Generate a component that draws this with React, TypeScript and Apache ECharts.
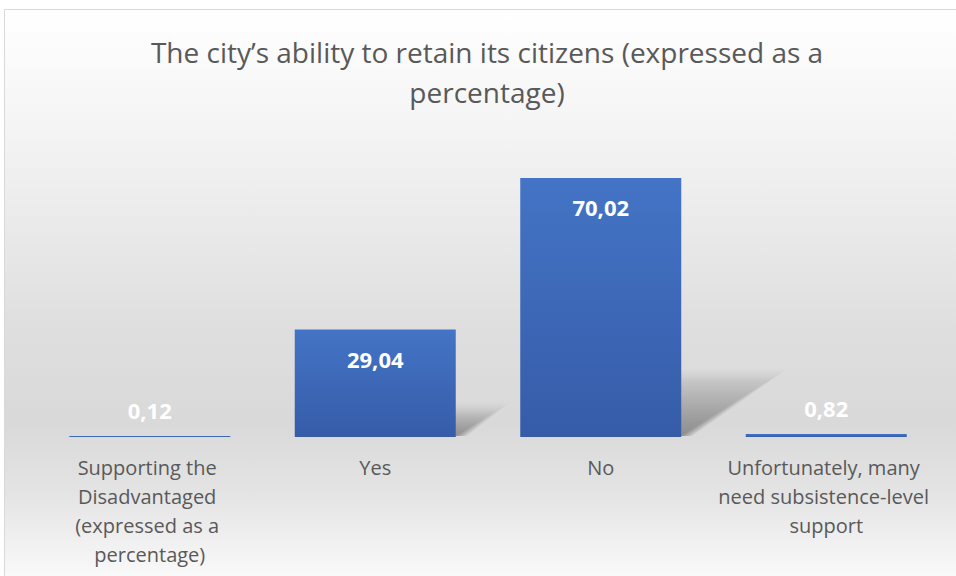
import React, { useEffect, useRef } from "react";
import * as echarts from "echarts";

const titleLines = ["The city\u2019s ability to retain its citizens (expressed as a", "percentage)"];
const categories = [
  "Supporting the Disadvantaged (expressed as a percentage)",
  "Yes",
  "No",
  "Unfortunately, many need subsistence-level support",
];
const values = [0.12, 29.04, 70.02, 0.82];

const FONT = "'Open Sans', 'Noto Sans', sans-serif";

export default function App() {
  const ref = useRef<HTMLDivElement>(null);
  useEffect(() => {
    if (!ref.current) return;
    const chart = echarts.init(ref.current, null, { renderer: "svg" });
    const barGap = 0.286;
    chart.setOption({
      animation: false,
      backgroundColor: "transparent",
      graphic: [
        {
          type: "text",
          x: 487,
          y: 32,
          style: {
            text: titleLines.join("\n"),
            align: "center",
            verticalAlign: "top",
            fontFamily: FONT,
            fontSize: 28,
            fontWeight: "normal",
            fill: "#595959",
            lineHeight: 40,
          },
        },
      ],
      grid: { left: 37, right: 17, top: 141, bottom: 139, containLabel: false },
      xAxis: {
        type: "category",
        data: categories,
        axisLine: { show: false },
        axisTick: { show: false },
        axisLabel: {
          interval: 0,
          margin: 16,
          fontFamily: FONT,
          fontSize: 20,
          lineHeight: 29,
          color: "#595959",
          width: 224,
          overflow: "break",
        },
      },
      yAxis: {
        type: "value",
        min: 0,
        max: 80,
        show: false,
        splitLine: { show: false },
      },
      series: [
        {
          type: "custom",
          z: 1,
          silent: true,
          data: values.map((v, i) => [i, v]),
          renderItem: (params: any, api: any) => {
            const idx = api.value(0);
            const v = api.value(1);
            const top = api.coord([idx, v]);
            const base = api.coord([idx, 0]);
            const w = api.size([1, 0])[0] * (1 - barGap);
            const h = base[1] - top[1];
            if (h < 5) return null;
            const dx = 0.34 * h;
            const dy = 0.22 * h;
            const l = base[0] - w / 2;
            const r = base[0] + w / 2;
            const y0 = base[1];
            const layers = 7;
            const children = [];
            for (let k = 0; k < layers; k++) {
              const e = (layers - 1 - k) * 3;
              children.push({
                type: "polygon",
                shape: {
                  points: [
                    [l, y0 - 1],
                    [r + e * 0.6, y0 - 1],
                    [r + dx + e, y0 - dy - e * 0.6],
                    [l + dx, y0 - dy - e * 0.6],
                  ],
                },
                style: {
                  fill: new echarts.graphic.LinearGradient(0, 1, 0, 0, [
                    { offset: 0, color: "rgba(0,0,0,0.06)" },
                    { offset: 1, color: "rgba(0,0,0,0.01)" },
                  ]),
                },
              });
            }
            return { type: "group", children };
          },
        },
        {
          type: "bar",
          z: 3,
          barCategoryGap: "28.6%",
          barMinHeight: 1,
          data: values.map((v) => ({
            value: v,
            label: {
              position: v > 5 ? "insideTop" : "top",
              distance: v > 5 ? 18 : 15,
            },
          })),
          itemStyle: {
            color: new echarts.graphic.LinearGradient(0, 0, 0, 1, [
              { offset: 0, color: "#4474c6" },
              { offset: 1, color: "#365ca8" },
            ]),
          },
          label: {
            show: true,
            color: "#ffffff",
            fontFamily: FONT,
            fontWeight: "bold",
            fontSize: 22,
            formatter: (p: any) => String(p.value.toFixed(2)).replace(".", ","),
          },
        },
      ],
    });
    return () => chart.dispose();
  }, []);

  return (
    <div
      style={{
        position: "fixed",
        left: 0,
        top: 0,
        width: 956,
        height: 576,
        overflow: "hidden",
        background: "#ffffff",
      }}
    >
      <div
        style={{
          position: "absolute",
          left: 4,
          top: 9,
          width: 970,
          height: 590,
          border: "1px solid #d9d9d9",
          background:
            "linear-gradient(to bottom, #ffffff 0%, #f3f3f3 22%, #dedede 55%, #d9d9d9 70%, #e4e4e4 82%, #ffffff 100%)",
        }}
      />
      <div
        ref={ref}
        style={{ position: "absolute", left: 0, top: 0, width: 956, height: 576 }}
      />
    </div>
  );
}
